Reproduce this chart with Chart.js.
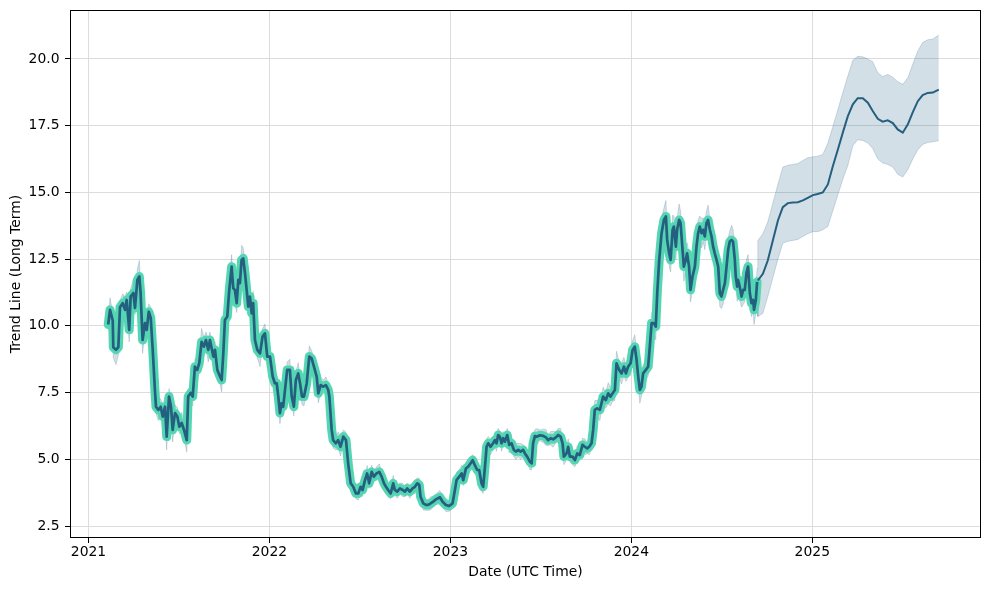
<!DOCTYPE html>
<html><head><meta charset="utf-8">
<script src="https://cdn.jsdelivr.net/npm/chart.js@4.4.1/dist/chart.umd.min.js"></script>
<style>html,body{margin:0;padding:0;background:#fff}#wrap{width:989px;height:590px;position:relative}</style>
</head><body><div id="wrap"><canvas id="c"></canvas></div>
<script>
// Historical trend (decimal years) and values
const histDates = [
2021.109,2021.119,2021.134,2021.137,2021.152,2021.165,2021.174,2021.189,2021.202,2021.211,
2021.225,2021.233,2021.248,2021.257,2021.270,2021.281,2021.288,2021.299,2021.312,2021.322,
2021.333,2021.344,2021.355,2021.367,2021.373,2021.386,2021.399,2021.410,2021.423,2021.432,
2021.445,2021.456,2021.465,2021.478,2021.491,2021.502,2021.515,2021.528,2021.543,2021.551,
2021.565,2021.576,2021.588,2021.601,2021.612,2021.625,2021.638,2021.649,2021.662,2021.671,
2021.690,2021.699,2021.712,2021.727,2021.736,2021.745,2021.754,2021.767,2021.778,2021.791,
2021.800,2021.809,2021.819,2021.828,2021.837,2021.846,2021.855,2021.865,2021.874,2021.883,
2021.892,2021.902,2021.910,2021.920,2021.933,2021.948,2021.962,2021.975,2021.988,2022.003,
2022.018,2022.030,2022.040,2022.049,2022.058,2022.067,2022.076,2022.086,2022.098,2022.113,
2022.123,2022.135,2022.146,2022.159,2022.169,2022.180,2022.191,2022.206,2022.220,2022.233,
2022.246,2022.261,2022.270,2022.283,2022.297,2022.312,2022.325,2022.331,2022.344,2022.352,
2022.367,2022.380,2022.393,2022.408,2022.423,2022.435,2022.449,2022.463,2022.478,2022.491,
2022.504,2022.515,2022.528,2022.540,2022.551,2022.565,2022.577,2022.592,2022.607,2022.620,
2022.633,2022.644,2022.656,2022.670,2022.684,2022.693,2022.706,2022.721,2022.736,2022.749,
2022.761,2022.776,2022.791,2022.804,2022.817,2022.828,2022.835,2022.850,2022.865,2022.877,
2022.891,2022.905,2022.920,2022.942,2022.957,2022.975,2022.993,2023.012,2023.025,2023.034,
2023.049,2023.062,2023.071,2023.086,2023.098,2023.112,2023.123,2023.135,2023.148,2023.159,
2023.172,2023.181,2023.191,2023.200,2023.209,2023.222,2023.236,2023.246,2023.255,2023.264,
2023.273,2023.283,2023.292,2023.301,2023.314,2023.325,2023.338,2023.351,2023.362,2023.375,
2023.388,2023.402,2023.412,2023.424,2023.439,2023.449,2023.457,2023.467,2023.480,2023.494,
2023.513,2023.528,2023.540,2023.554,2023.568,2023.583,2023.596,2023.609,2023.620,2023.627,
2023.642,2023.651,2023.660,2023.675,2023.688,2023.701,2023.715,2023.730,2023.743,2023.756,
2023.767,2023.780,2023.789,2023.798,2023.811,2023.826,2023.835,2023.844,2023.859,2023.872,
2023.885,2023.896,2023.909,2023.918,2023.933,2023.946,2023.959,2023.970,2023.982,2023.996,
2024.007,2024.019,2024.029,2024.038,2024.047,2024.056,2024.065,2024.080,2024.093,2024.102,
2024.112,2024.124,2024.135,2024.143,2024.154,2024.167,2024.180,2024.191,2024.198,2024.209,
2024.217,2024.228,2024.235,2024.246,2024.253,2024.264,2024.272,2024.283,2024.290,2024.301,
2024.308,2024.319,2024.327,2024.338,2024.351,2024.360,2024.369,2024.378,2024.388,2024.397,
2024.406,2024.415,2024.424,2024.434,2024.443,2024.452,2024.461,2024.471,2024.480,2024.489,
2024.498,2024.507,2024.517,2024.526,2024.535,2024.544,2024.554,2024.562,2024.572,2024.577,
2024.585,2024.590,2024.599,2024.609,2024.618,2024.627,2024.636,2024.645,2024.655,2024.664,
2024.673,2024.678,2024.688,2024.695
];
const histValues = [
10.05,10.6,10.2,9.2,9.1,9.2,10.7,10.85,10.6,10.97,
9.85,11.1,11.23,10.67,11.72,11.85,11.23,9.47,10.1,9.85,
10.53,10.3,9.1,7.6,6.97,6.85,6.97,6.6,6.97,5.85,
7.35,6.97,6.1,6.73,6.6,6.22,6.36,6.1,5.72,7.35,
7.49,7.35,8.47,8.35,8.6,9.4,9.22,9.47,9.1,9.47,
8.85,9.1,8.35,8.1,7.97,8.97,10.22,10.35,11.35,12.22,
11.41,11.35,10.85,11.72,11.6,12.47,12.53,11.97,11.35,10.72,
11.1,10.47,10.85,9.47,9.1,8.97,9.6,9.72,8.85,8.85,
8.1,7.85,7.85,7.35,6.73,7.1,6.97,7.6,8.35,8.35,
7.35,6.97,7.97,8.22,7.85,7.35,7.35,7.85,8.85,8.78,
8.47,8.1,7.47,7.78,7.72,7.78,7.6,7.35,6.1,5.72,
5.6,5.72,5.47,5.85,5.72,4.85,4.1,3.97,3.72,3.72,
3.97,3.85,4.22,4.47,4.1,4.53,4.35,4.47,4.53,4.35,
4.1,3.97,3.85,3.72,4.1,3.85,3.79,3.91,3.85,3.79,
3.91,3.79,3.91,3.97,4.1,4.04,3.6,3.35,3.29,3.29,
3.35,3.41,3.5,3.58,3.41,3.29,3.25,3.35,3.85,4.22,
4.35,4.47,4.22,4.66,4.72,4.85,4.97,4.78,4.6,4.6,
4.1,3.97,4.72,5.47,5.6,5.47,5.6,5.72,5.6,5.91,
5.85,5.6,5.79,5.66,5.91,5.54,5.6,5.35,5.29,5.35,
5.29,5.35,5.22,5.1,4.91,4.85,5.6,5.87,5.85,5.9,
5.88,5.82,5.72,5.79,5.75,5.82,5.91,5.85,5.6,5.1,
5.22,5.47,5.1,5.1,4.97,5.22,5.16,5.54,5.47,5.41,
5.47,5.6,6.1,6.85,6.91,6.85,7.1,7.35,7.22,7.47,
7.35,7.47,7.6,8.6,8.35,8.22,8.47,8.22,8.47,8.6,
9.1,9.22,8.72,8.1,7.6,7.72,8.22,8.35,8.47,9.22,
10.1,10.1,9.97,11.22,12.47,13.47,13.97,14.1,13.22,12.72,
12.47,13.6,13.72,12.97,13.6,13.97,13.85,12.85,12.22,12.47,
12.72,12.22,11.35,11.85,12.22,12.97,13.47,13.72,13.47,13.6,
13.35,13.85,13.97,13.6,13.35,12.97,12.72,12.47,12.22,11.22,
11.1,11.35,11.6,12.22,12.85,13.16,13.22,13.16,12.47,11.85,
11.47,11.72,11.47,11.1,11.35,11.35,11.97,12.22,11.22,10.85,
10.97,10.6,10.97,11.65
];
// half-width of the historical uncertainty band
const histSpread = [
.25,.45,.3,.4,.55,.3,.25,.35,.5,.3,
.45,.3,.5,.25,.4,.6,.35,.5,.3,.45,
.3,.4,.55,.3,.25,.4,.3,.45,.35,.5,
.3,.25,.45,.3,.35,.25,.4,.3,.45,.3,
.25,.35,.3,.45,.3,.5,.35,.3,.45,.3,
.35,.3,.4,.3,.45,.3,.25,.4,.35,.45,
.3,.5,.35,.4,.3,.55,.4,.35,.45,.3,
.4,.3,.45,.35,.3,.5,.3,.35,.4,.3,
.3,.25,.35,.3,.4,.25,.3,.35,.3,.4,
.25,.35,.3,.4,.25,.3,.35,.25,.4,.3,
.3,.25,.35,.3,.25,.3,.25,.3,.35,.3,
.25,.3,.35,.25,.3,.2,.25,.3,.2,.25,
.2,.25,.2,.3,.2,.25,.2,.25,.3,.2,
.25,.2,.25,.2,.3,.2,.25,.2,.25,.2,
.2,.25,.2,.25,.2,.25,.2,.25,.2,.2,
.25,.2,.2,.25,.2,.25,.2,.2,.25,.3,
.25,.3,.2,.25,.3,.25,.2,.3,.25,.2,
.3,.25,.2,.3,.25,.3,.2,.25,.3,.25,
.2,.3,.25,.2,.25,.3,.2,.25,.3,.25,
.3,.2,.25,.2,.3,.25,.2,.25,.3,.2,
.25,.3,.2,.25,.3,.2,.25,.3,.2,.3,
.25,.3,.2,.3,.25,.3,.2,.25,.3,.2,
.3,.25,.3,.35,.3,.4,.3,.35,.3,.4,
.35,.3,.4,.45,.3,.4,.35,.3,.4,.45,
.35,.45,.3,.4,.5,.35,.3,.4,.35,.45,
.4,.35,.5,.45,.4,.55,.45,.6,.4,.5,
.45,.55,.4,.5,.45,.6,.45,.4,.55,.45,
.4,.5,.45,.55,.4,.45,.5,.4,.55,.45,
.5,.45,.55,.4,.5,.45,.55,.45,.4,.5,
.45,.55,.4,.5,.45,.4,.55,.45,.5,.4,
.55,.45,.5,.4,.55,.45,.5,.45,.55,.5,
.45,.55,.5,.5
];
// Forecast
const fcDates = [
2024.699,2024.727,2024.754,2024.782,2024.810,2024.837,2024.865,2024.892,2024.920,2024.948,
2024.975,2025.003,2025.030,2025.058,2025.086,2025.113,2025.141,2025.169,2025.196,2025.224,
2025.251,2025.279,2025.307,2025.334,2025.362,2025.389,2025.417,2025.445,2025.472,2025.500,
2025.528,2025.555,2025.583,2025.610,2025.638,2025.666,2025.699
];
const fcValues = [
11.7,11.95,12.45,13.2,13.95,14.45,14.6,14.62,14.63,14.7,
14.8,14.9,14.94,15.0,15.3,15.97,16.6,17.25,17.85,18.3,
18.53,18.53,18.36,18.05,17.76,17.65,17.7,17.6,17.36,17.24,
17.55,18.0,18.42,18.65,18.73,18.74,18.85
];
const fcUpper = [
13.2,13.45,13.9,14.6,15.3,15.95,16.02,16.05,16.08,16.2,
16.3,16.33,16.36,16.42,16.85,17.45,18.1,18.75,19.35,19.95,
20.1,20.08,20.0,19.9,19.48,19.34,19.42,19.32,19.15,19.05,
19.3,19.8,20.3,20.62,20.72,20.75,20.9
];
const fcLower = [
10.35,10.47,11.1,11.8,12.5,13.1,13.17,13.2,13.24,13.35,
13.45,13.53,13.53,13.6,13.72,14.3,14.9,15.5,16.0,16.75,
16.97,16.95,16.85,16.65,16.25,16.1,16.05,15.95,15.68,15.58,
15.85,16.25,16.6,16.8,16.87,16.9,16.94
];
const xTicks = [2021, 2022, 2023, 2024, 2025];
const yTicks = [2.5, 5, 7.5, 10, 12.5, 15, 17.5, 20];

const pts = (xs, ys) => xs.map((x, i) => ({x: x, y: ys[i]}));
const bandX = histDates.concat(fcDates);
const bandLo = histValues.map((v, i) => v - histSpread[i]).concat(fcLower);
const bandHi = histValues.map((v, i) => v + histSpread[i]).concat(fcUpper);

Chart.defaults.font.family = "'DejaVu Sans', sans-serif";
Chart.defaults.font.size = 13.9;
Chart.defaults.color = '#000';

const frame = {
  id: 'frame',
  afterDraw(chart) {
    const {ctx, chartArea: a} = chart;
    ctx.save();
    ctx.strokeStyle = '#000';
    ctx.lineWidth = 1;
    ctx.strokeRect(a.left + 0.5, a.top + 0.5, a.right - a.left - 1, a.bottom - a.top - 1);
    ctx.restore();
  }
};

const DARK = '#245f80';
const TEAL = 'rgb(84,214,178)';
const BAND = 'rgba(36,95,128,0.2)';

new Chart(document.getElementById('c'), {
  type: 'line',
  data: {
    datasets: [
      {data: pts(histDates, histValues), borderColor: DARK, borderWidth: 2.7, pointRadius: 0, tension: 0, fill: false, borderJoinStyle: 'round'},
      {data: pts(fcDates, fcValues), borderColor: DARK, borderWidth: 2, pointRadius: 0, tension: 0, fill: false},
      {data: pts(histDates, histValues), borderColor: TEAL, borderWidth: 9, pointRadius: 0, tension: 0, fill: false, borderJoinStyle: 'round', borderCapStyle: 'round'},
      {data: pts(bandX, bandHi), borderColor: BAND, borderWidth: 1, pointRadius: 0, tension: 0, fill: '+1', backgroundColor: BAND},
      {data: pts(bandX, bandLo), borderColor: BAND, borderWidth: 1, pointRadius: 0, tension: 0, fill: false}
    ]
  },
  options: {
    responsive: true,
    maintainAspectRatio: false,
    animation: false,
    events: [],
    layout: {padding: {left: 0, top: 10, right: 8, bottom: 0}},
    plugins: {legend: {display: false}, tooltip: {enabled: false}},
    scales: {
      x: {
        type: 'linear',
        min: 2020.8978,
        max: 2025.9323,
        afterBuildTicks: s => { s.ticks = xTicks.map(v => ({value: v})); },
        afterFit: s => { s.height = 52; s.paddingLeft = 0; s.paddingRight = 0; },
        ticks: {padding: 1, callback: v => String(v), maxRotation: 0, autoSkip: false},
        grid: {color: '#dcdcdc', tickColor: '#000', tickLength: 5, lineWidth: 1},
        border: {display: false},
        title: {display: true, text: 'Date (UTC Time)', padding: {top: 0, bottom: 9.7}}
      },
      y: {
        type: 'linear',
        min: 2.051,
        max: 21.836,
        afterBuildTicks: s => { s.ticks = yTicks.map(v => ({value: v})); },
        afterFit: s => { s.width = 70; s.paddingTop = 0; s.paddingBottom = 0; },
        ticks: {padding: 5.5, callback: v => v.toFixed(1), autoSkip: false},
        grid: {color: '#dcdcdc', tickColor: '#000', tickLength: 5, lineWidth: 1},
        border: {display: false},
        title: {display: true, text: 'Trend Line (Long Term)', padding: {top: 7.7, bottom: 0}}
      }
    }
  },
  plugins: [frame]
});
</script>
</body></html>
